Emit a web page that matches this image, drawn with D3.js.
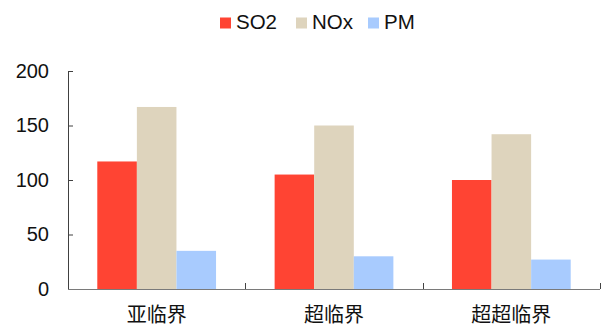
<!DOCTYPE html>
<html>
<head>
<meta charset="utf-8">
<script src="https://cdn.jsdelivr.net/npm/d3@7"></script>
<style>
  html, body { margin: 0; padding: 0; background: #fff; }
  svg { display: block; }
</style>
</head>
<body>
<svg id="chart" width="605" height="329"></svg>
<script>
// Emission levels by boiler type
const categories = ["亚临界", "超临界", "超超临界"];
const seriesNames = ["SO2", "NOx", "PM"];
const so2 = [117, 105, 100];
const nox = [167, 150, 142];
const pm = [35, 30, 27];
const yTicks = [0, 50, 100, 150, 200];
const colors = ["#FF4433", "#DED4BD", "#A8CBFE"];

(function () {
  const seriesValues = [so2, nox, pm];
  const rows = categories.map((c, i) => ({
    category: c,
    values: seriesNames.map((s, j) => ({ series: s, value: seriesValues[j][i], color: colors[j] }))
  }));

  const svg = d3.select("#chart");
  const plotLeft = 68, plotRight = 600, plotTop = 71, plotBottom = 289;

  const x0 = d3.scaleBand().domain(categories).range([plotLeft, plotRight]).paddingInner(0).paddingOuter(0);
  const x1 = d3.scaleBand().domain(seriesNames).range([0, x0.bandwidth()]).paddingInner(0).paddingOuter(0.74);
  const y = d3.scaleLinear().domain([0, 200]).range([plotBottom, plotTop]);

  // bars
  const groups = svg.append("g").selectAll("g").data(rows).join("g")
    .attr("transform", d => `translate(${x0(d.category)},0)`);
  groups.selectAll("rect").data(d => d.values).join("rect")
    .attr("x", d => x1(d.series))
    .attr("width", x1.bandwidth())
    .attr("y", d => y(d.value))
    .attr("height", d => y(0) - y(d.value))
    .attr("fill", d => d.color);

  // y axis with inward ticks
  const yAxis = d3.axisLeft(y).tickValues(yTicks).tickSizeInner(-5).tickSizeOuter(0).tickPadding(19);
  const gy = svg.append("g").attr("transform", `translate(${plotLeft},0)`).call(yAxis);
  gy.select(".domain").attr("stroke", "#404040").attr("stroke-width", 1);
  gy.selectAll(".tick line").attr("stroke", "#404040");
  gy.selectAll(".tick text")
    .attr("fill", "#111")
    .style("font-family", "'Liberation Sans', Arial, sans-serif")
    .style("font-size", "20px");

  // x axis: baseline with boundary ticks pointing up
  svg.append("line")
    .attr("x1", plotLeft).attr("x2", plotRight)
    .attr("y1", y(0) + 0.5).attr("y2", y(0) + 0.5)
    .attr("stroke", "#7a7a7a").attr("stroke-width", 1.2);
  const boundaries = categories.map(c => x0(c)).concat([x0(categories[categories.length - 1]) + x0.bandwidth()]);
  svg.append("g").selectAll("line").data(boundaries.slice(1)).join("line")
    .attr("x1", d => Math.round(d) + 0.5).attr("x2", d => Math.round(d) + 0.5)
    .attr("y1", y(0)).attr("y2", y(0) - 6)
    .attr("stroke", "#444");

  // category labels
  svg.append("g").selectAll("text").data(categories).join("text")
    .attr("x", d => x0(d) + x0.bandwidth() / 2)
    .attr("y", 322)
    .attr("text-anchor", "middle")
    .attr("fill", "#111")
    .style("font-family", "'Noto Sans CJK SC', sans-serif")
    .style("font-size", "20px")
    .text(d => d);

  // legend
  const legendX = [220, 296, 368];
  const legend = svg.append("g").selectAll("g").data(seriesNames).join("g")
    .attr("transform", (d, i) => `translate(${legendX[i]},0)`);
  legend.append("rect")
    .attr("x", 0).attr("y", 17.5).attr("width", 11).attr("height", 11)
    .attr("fill", (d, i) => colors[i]);
  legend.append("text")
    .attr("x", 16).attr("y", 29)
    .attr("fill", "#111")
    .style("font-family", "'Liberation Sans', Arial, sans-serif")
    .style("font-size", "20.5px")
    .text(d => d);
})();
</script>
</body>
</html>
